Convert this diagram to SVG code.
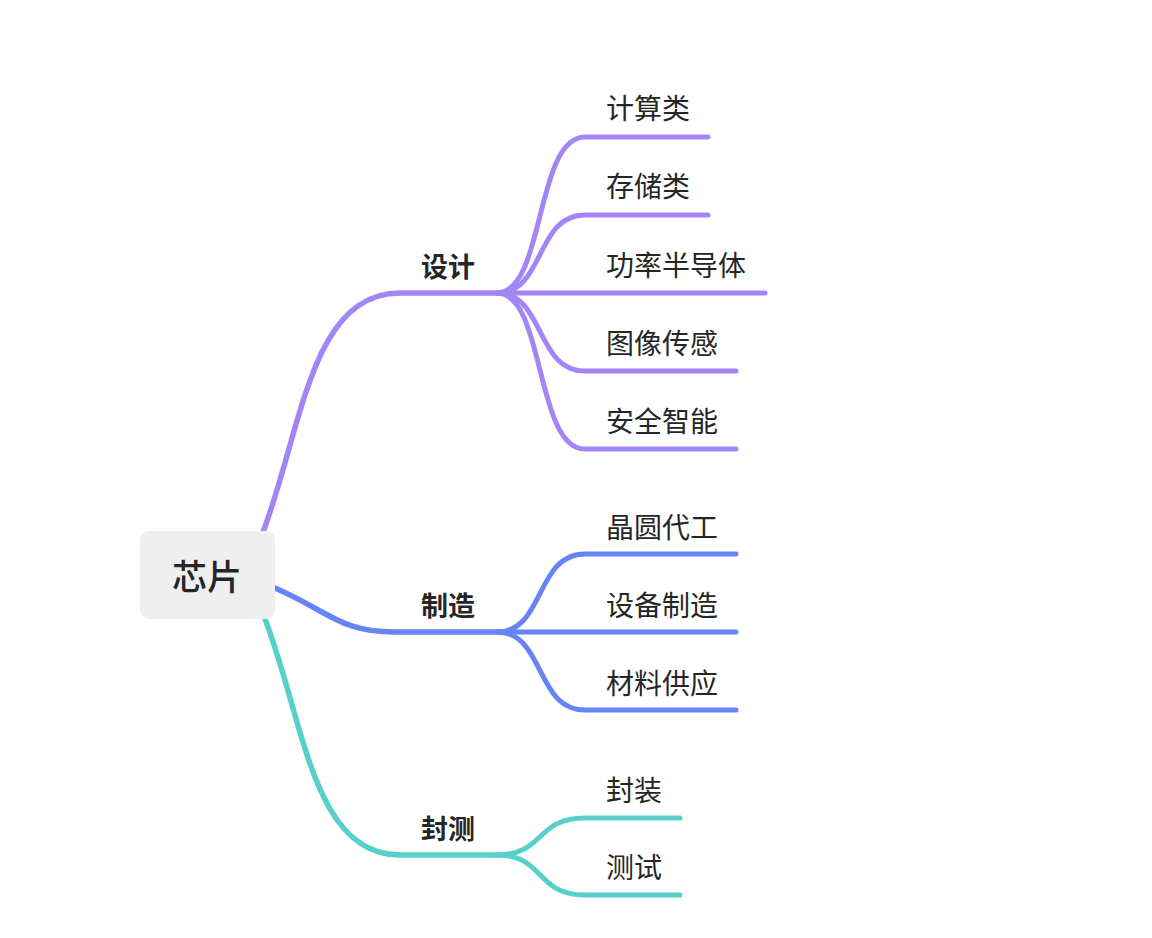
<svg xmlns="http://www.w3.org/2000/svg" width="1152" height="938" viewBox="0 0 1152 938">
<style>
text{font-family:"Noto Sans CJK SC","Noto Sans",sans-serif;fill:#262626;dominant-baseline:central}
.root{font-size:35px;font-weight:500;text-anchor:middle}
.br{font-size:27px;font-weight:bold;text-anchor:middle}
.lf{font-size:28px}
.c{fill:none;stroke-linecap:round;stroke-linejoin:round}
.m{stroke-width:5.5}
.s{stroke-width:5}
.p{stroke:#a386f6}
.b{stroke:#6784f7}
.t{stroke:#57cfcb}
</style>
<rect width="1152" height="938" fill="#ffffff"/>
<g id="connectors">
<path class="c m p" d="M263,532 C302,430 310,293 400,293 L497,293"/>
<path class="c m b" d="M275,588 C330,612 340,632 395,632 L497,632"/>
<path class="c m t" d="M265,619 C304,720 312,855 400,855 L497,855"/>
<path class="c s p" d="M497,293 C545,293 535,137 585,137 L708,137"/>
<path class="c s p" d="M497,293 C545,293 535,215 585,215 L708,215"/>
<path class="c s p" d="M497,293 L765,293"/>
<path class="c s p" d="M497,293 C545,293 535,371 585,371 L736,371"/>
<path class="c s p" d="M497,293 C545,293 535,449 585,449 L736,449"/>
<path class="c s b" d="M497,632 C545,632 535,554 585,554 L736,554"/>
<path class="c s b" d="M497,632 L736,632"/>
<path class="c s b" d="M497,632 C545,632 535,710 585,710 L736,710"/>
<path class="c s t" d="M497,855 C545,855 535,818 585,818 L680,818"/>
<path class="c s t" d="M497,855 C545,855 535,895 585,895 L680,895"/>
</g>
<g id="root">
<rect x="140" y="531" width="135" height="88" rx="9" fill="#efefef"/>
<text class="root" x="207" y="574">芯片</text>
</g>
<g id="b-design"><text class="br" x="448" y="265">设计</text></g>
<g id="b-manufacture"><text class="br" x="448" y="604">制造</text></g>
<g id="b-test"><text class="br" x="448" y="827">封测</text></g>
<g id="n1"><text class="lf" x="606" y="107">计算类</text></g>
<g id="n2"><text class="lf" x="606" y="185">存储类</text></g>
<g id="n3"><text class="lf" x="606" y="264">功率半导体</text></g>
<g id="n4"><text class="lf" x="606" y="342">图像传感</text></g>
<g id="n5"><text class="lf" x="606" y="420">安全智能</text></g>
<g id="n6"><text class="lf" x="606" y="526">晶圆代工</text></g>
<g id="n7"><text class="lf" x="606" y="604">设备制造</text></g>
<g id="n8"><text class="lf" x="606" y="682">材料供应</text></g>
<g id="n9"><text class="lf" x="606" y="789">封装</text></g>
<g id="n10"><text class="lf" x="606" y="866">测试</text></g>
</svg>
